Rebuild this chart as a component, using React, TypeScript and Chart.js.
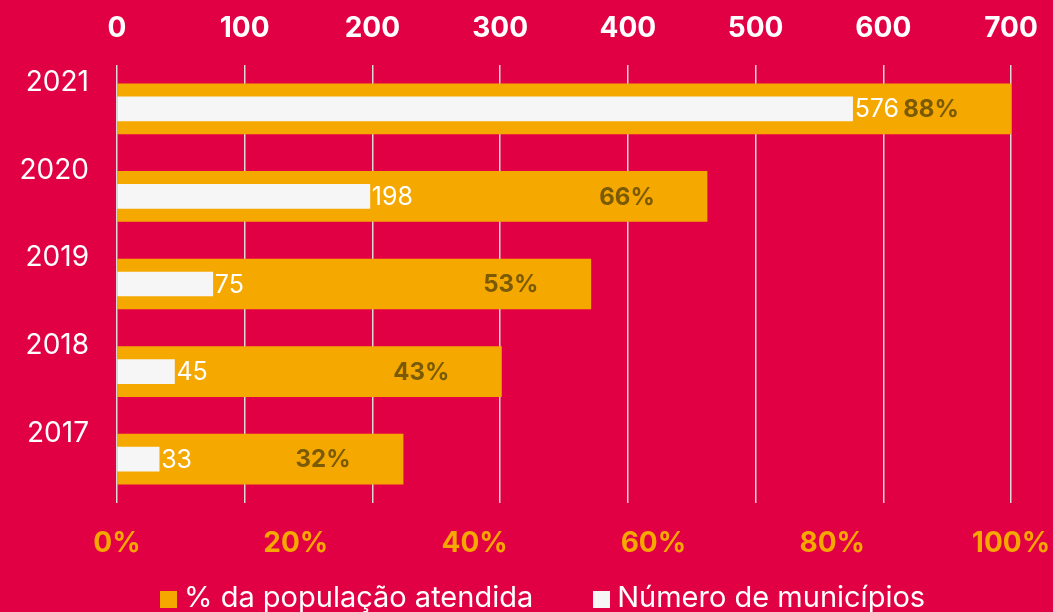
import React, { useEffect, useRef } from "react";
import { Chart, registerables } from "chart.js";

Chart.register(...registerables);

const years = ["2021", "2020", "2019", "2018", "2017"];
const municipios = [576, 198, 75, 45, 33];
const populacaoBar = [100, 66, 53, 43, 32];
const populacaoLabels = ["88%", "66%", "53%", "43%", "32%"];
const topTickMax = 700;
const topTickStep = 100;
const bottomTickMax = 100;
const bottomTickStep = 20;
const legendLabels = ["% da população atendida", "Número de municípios"];

const BG = "#e20045";
const ORANGE = "#f5a800";
const WHITE = "#f6f6f6";
const LABEL_DARK = "#7a5a05";
const FONT = "Inter, 'Open Sans', sans-serif";

const barLabelPlugin = {
  id: "barLabels",
  afterDatasetsDraw(chart: any) {
    const ctx = chart.ctx;
    ctx.save();
    const orangeMeta = chart.getDatasetMeta(0);
    const whiteMeta = chart.getDatasetMeta(1);
    ctx.textBaseline = "middle";
    ctx.font = `bold 24px ${FONT}`;
    ctx.fillStyle = LABEL_DARK;
    ctx.textAlign = "center";
    orangeMeta.data.forEach((bar: any, i: number) => {
      ctx.fillText(populacaoLabels[i], bar.x - 80, bar.y + 1);
    });
    ctx.font = `25px ${FONT}`;
    ctx.fillStyle = "#ffffff";
    ctx.textAlign = "left";
    whiteMeta.data.forEach((bar: any, i: number) => {
      ctx.fillText(String(municipios[i]), bar.x + 2, bar.y + 1);
    });
    ctx.restore();
  },
};

const legendColors = [ORANGE, WHITE];

const fixPadding = (scale: any) => {
  scale.paddingLeft = 0;
  scale.paddingRight = 42;
};

export default function App() {
  const canvasRef = useRef<HTMLCanvasElement | null>(null);

  useEffect(() => {
    document.body.style.margin = "0";
    const canvas = canvasRef.current;
    if (!canvas) return;
    const chart = new Chart(canvas, {
      type: "bar",
      data: {
        labels: years,
        datasets: [
          {
            label: legendLabels[0],
            data: populacaoBar,
            backgroundColor: ORANGE,
            borderWidth: 0,
            xAxisID: "xBottom",
            barThickness: 50,
            grouped: false,
            order: 1,
          } as any,
          {
            label: legendLabels[1],
            data: municipios,
            backgroundColor: WHITE,
            borderWidth: 0,
            xAxisID: "xTop",
            barThickness: 24,
            grouped: false,
            order: 0,
          } as any,
        ],
      },
      options: {
        indexAxis: "y",
        animation: false,
        responsive: true,
        maintainAspectRatio: false,
        layout: { padding: { top: 11, right: 0, left: 0, bottom: 40 } },
        plugins: {
          tooltip: { enabled: false },
          legend: { display: false },
        },
        scales: {
          y: {
            type: "category",
            grid: { display: false, drawTicks: false },
            border: { display: false },
            ticks: {
              color: "#ffffff",
              font: { family: FONT, size: 28 },
              labelOffset: -26,
              padding: 28,
            },
            afterFit: (scale: any) => {
              scale.width = 117;
            },
          },
          xTop: {
            type: "linear",
            position: "top",
            min: 0,
            max: topTickMax,
            grid: {
              color: "#d8d8d8",
              lineWidth: 1.5,
              drawTicks: false,
            },
            border: { display: false },
            ticks: {
              stepSize: topTickStep,
              color: "#ffffff",
              font: { family: FONT, size: 28, weight: "bold" },
              padding: 20,
            },
            afterFit: (scale: any) => {
              scale.height = 54;
              fixPadding(scale);
            },
          },
          xBottom: {
            type: "linear",
            position: "bottom",
            min: 0,
            max: bottomTickMax,
            grid: { display: false, drawTicks: false },
            border: { display: false },
            ticks: {
              stepSize: bottomTickStep,
              color: ORANGE,
              font: { family: FONT, size: 28, weight: "bold" },
              padding: 24,
              callback: (v: any) => `${v}%`,
            },
            afterFit: (scale: any) => {
              scale.height = 69;
              fixPadding(scale);
            },
          },
        },
      } as any,
      plugins: [barLabelPlugin],
    });
    return () => chart.destroy();
  }, []);

  return (
    <div
      style={{
        position: "absolute",
        left: 0,
        top: 0,
        width: 1053,
        height: 612,
        background: BG,
        overflow: "hidden",
      }}
    >
      <canvas ref={canvasRef} />
      <div
        style={{
          position: "absolute",
          left: 160,
          top: 578,
          display: "flex",
          alignItems: "center",
          fontFamily: FONT,
          fontSize: 29,
          color: "#ffffff",
          whiteSpace: "nowrap",
          lineHeight: "38px",
        }}
      >
        {legendLabels.map((label, i) => (
          <div
            key={label}
            style={{ display: "flex", alignItems: "center", marginRight: 60 }}
          >
            <span
              style={{
                display: "inline-block",
                width: 17,
                height: 17,
                background: legendColors[i],
                marginRight: 7,
                marginTop: 4,
              }}
            />
            <span>{label}</span>
          </div>
        ))}
      </div>
    </div>
  );
}
